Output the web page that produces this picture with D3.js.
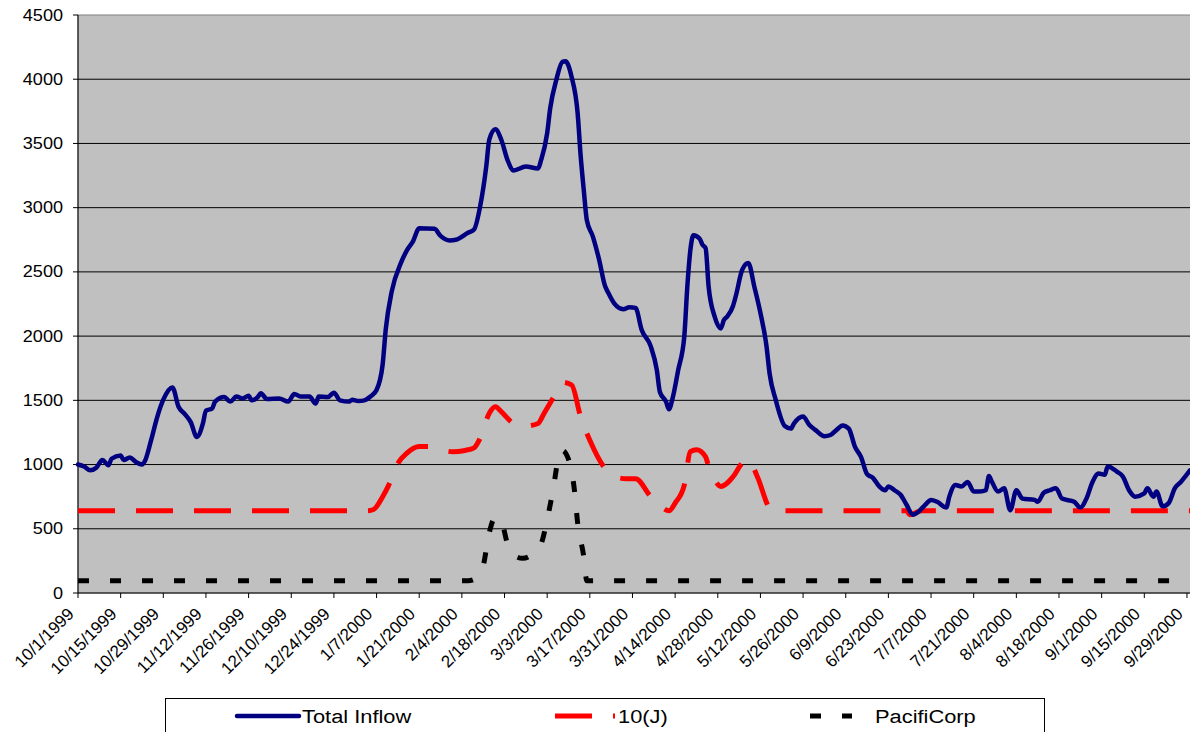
<!DOCTYPE html>
<html>
<head>
<meta charset="utf-8">
<script src="https://cdn.jsdelivr.net/npm/d3@7"></script>
<style>
  body { margin: 0; background: #fff; }
  svg { display: block; }
  text { font-family: Arial, "Liberation Sans", sans-serif; fill: #000; }
</style>
</head>
<body>
<svg id="chart" width="1190" height="732"></svg>
<script>
const tickLabels = ["10/1/1999", "10/15/1999", "10/29/1999", "11/12/1999", "11/26/1999", "12/10/1999",
  "12/24/1999", "1/7/2000", "1/21/2000", "2/4/2000", "2/18/2000", "3/3/2000", "3/17/2000", "3/31/2000",
  "4/14/2000", "4/28/2000", "5/12/2000", "5/26/2000", "6/9/2000", "6/23/2000", "7/7/2000", "7/21/2000",
  "8/4/2000", "8/18/2000", "9/1/2000", "9/15/2000", "9/29/2000"];
const yTicks = [0, 500, 1000, 1500, 2000, 2500, 3000, 3500, 4000, 4500];
const seriesNames = ["Total Inflow", "10(J)", "PacifiCorp"];

const inflowDates = ["10/1/1999", "10/3/1999", "10/5/1999", "10/7/1999", "10/9/1999", "10/11/1999", "10/12/1999",
  "10/15/1999", "10/16/1999", "10/18/1999", "10/20/1999", "10/22/1999", "10/23/1999", "10/25/1999", "10/27/1999",
  "10/29/1999", "11/1/1999", "11/3/1999", "11/5/1999", "11/7/1999", "11/9/1999", "11/11/1999", "11/12/1999",
  "11/14/1999", "11/15/1999", "11/18/1999", "11/20/1999", "11/22/1999", "11/24/1999", "11/26/1999", "11/27/1999",
  "11/29/1999", "11/30/1999", "12/2/1999", "12/6/1999", "12/9/1999", "12/11/1999", "12/13/1999", "12/16/1999",
  "12/18/1999", "12/19/1999", "12/22/1999", "12/24/1999", "12/26/1999", "12/29/1999", "12/30/1999", "1/1/2000",
  "1/3/2000", "1/5/2000", "1/7/2000", "1/9/2000", "1/10/2000", "1/12/2000", "1/15/2000", "1/17/2000", "1/19/2000",
  "1/21/2000", "1/26/2000", "1/28/2000", "1/31/2000", "2/2/2000", "2/6/2000", "2/8/2000", "2/10/2000", "2/12/2000",
  "2/13/2000", "2/15/2000", "2/17/2000", "2/19/2000", "2/21/2000", "2/25/2000", "2/29/2000", "3/1/2000", "3/3/2000",
  "3/4/2000", "3/6/2000", "3/8/2000", "3/9/2000", "3/11/2000", "3/13/2000", "3/14/2000", "3/15/2000", "3/16/2000",
  "3/18/2000", "3/20/2000", "3/22/2000", "3/23/2000", "3/25/2000", "3/28/2000", "3/30/2000", "4/1/2000", "4/3/2000",
  "4/6/2000", "4/8/2000", "4/9/2000", "4/11/2000", "4/12/2000", "4/13/2000", "4/15/2000", "4/17/2000", "4/18/2000",
  "4/19/2000", "4/20/2000", "4/22/2000", "4/23/2000", "4/24/2000", "4/25/2000", "4/27/2000", "4/29/2000", "4/30/2000",
  "5/1/2000", "5/3/2000", "5/4/2000", "5/6/2000", "5/8/2000", "5/10/2000", "5/12/2000", "5/14/2000", "5/15/2000",
  "5/17/2000", "5/20/2000", "5/22/2000", "5/23/2000", "5/26/2000", "5/28/2000", "5/30/2000", "6/2/2000", "6/4/2000",
  "6/6/2000", "6/8/2000", "6/10/2000", "6/12/2000", "6/14/2000", "6/16/2000", "6/18/2000", "6/20/2000", "6/22/2000",
  "6/23/2000", "6/25/2000", "6/27/2000", "6/29/2000", "7/1/2000", "7/3/2000", "7/5/2000", "7/7/2000", "7/9/2000",
  "7/12/2000", "7/13/2000", "7/15/2000", "7/17/2000", "7/19/2000", "7/21/2000", "7/23/2000", "7/25/2000", "7/26/2000",
  "7/27/2000", "7/29/2000", "7/31/2000", "8/2/2000", "8/4/2000", "8/6/2000", "8/10/2000", "8/11/2000", "8/13/2000",
  "8/15/2000", "8/17/2000", "8/19/2000", "8/23/2000", "8/25/2000", "8/27/2000", "8/29/2000", "8/31/2000", "9/2/2000",
  "9/3/2000", "9/6/2000", "9/8/2000", "9/10/2000", "9/12/2000", "9/15/2000", "9/16/2000", "9/18/2000", "9/19/2000",
  "9/21/2000", "9/23/2000", "9/25/2000", "9/27/2000", "9/30/2000"];
const inflowValues = [1000, 985, 955, 975, 1035, 995, 1045,
  1070, 1035, 1055, 1020, 1000, 1030, 1190, 1370,
  1505, 1600, 1450, 1395, 1330, 1215, 1320, 1420,
  1435, 1490, 1525, 1490, 1530, 1515, 1535, 1500,
  1525, 1555, 1510, 1515, 1490, 1550, 1530, 1530,
  1475, 1530, 1525, 1560, 1500, 1490, 1505, 1495,
  1500, 1530, 1580, 1780, 2050, 2350, 2570, 2670, 2740,
  2840, 2835, 2780, 2745, 2750, 2805, 2830, 3010, 3320,
  3530, 3610, 3525, 3370, 3290, 3320, 3305, 3370, 3580,
  3775, 3995, 4135, 4140, 4020, 3735, 3400, 3140, 2905,
  2775, 2600, 2390, 2340, 2255, 2210, 2225, 2220, 2050,
  1920, 1735, 1565, 1490, 1430, 1500, 1735, 1995, 2385,
  2670, 2785, 2760, 2710, 2685, 2385, 2150, 2060, 2125,
  2150, 2235, 2320, 2515, 2570, 2385, 2180, 1920, 1710,
  1505, 1300, 1280, 1320, 1375, 1310, 1270, 1220, 1230,
  1270, 1305, 1280, 1140, 1060, 925, 895, 830, 800,
  830, 800, 765, 685, 610, 635, 685, 725, 710,
  665, 750, 840, 830, 865, 790, 790, 800, 910,
  865, 790, 815, 645, 800, 735, 725, 710, 780,
  800, 815, 735, 710, 665, 735, 865, 930, 920,
  985, 945, 905, 800, 750, 775, 815, 750, 790,
  675, 700, 815, 865, 955];

const tenJDates = ["10/1/1999", "1/4/2000", "1/6/2000", "1/9/2000", "1/11/2000", "1/14/2000", "1/17/2000", "1/21/2000",
  "1/24/2000", "1/28/2000", "2/1/2000", "2/5/2000", "2/8/2000", "2/10/2000", "2/13/2000", "2/15/2000", "2/17/2000",
  "2/21/2000", "2/25/2000", "2/29/2000", "3/2/2000", "3/6/2000", "3/8/2000", "3/11/2000", "3/14/2000", "3/17/2000",
  "3/22/2000", "3/26/2000", "3/29/2000", "4/1/2000", "4/6/2000", "4/9/2000", "4/12/2000", "4/14/2000", "4/17/2000",
  "4/19/2000", "4/21/2000", "4/24/2000", "4/25/2000", "4/27/2000", "4/29/2000", "5/3/2000", "5/6/2000", "5/8/2000",
  "5/11/2000", "5/15/2000", "5/16/2000", "6/29/2000", "6/30/2000", "7/3/2000", "7/4/2000", "9/30/2000"];
const tenJValues = [640, 640, 650, 750, 840, 1010, 1090, 1140,
  1140, 1115, 1100, 1110, 1130, 1205, 1400, 1450, 1410,
  1320, 1300, 1320, 1400, 1560, 1640, 1620, 1370, 1190,
  970, 900, 890, 890, 750, 680, 640, 700, 840,
  1100, 1115, 1060, 985, 880, 830, 905, 1010, 1040,
  905, 660, 640, 640, 610, 635, 640, 640];

const pacDates = ["10/1/1999", "2/6/2000", "2/9/2000", "2/11/2000", "2/13/2000", "2/15/2000", "2/17/2000", "2/19/2000",
  "2/21/2000", "2/24/2000", "2/28/2000", "3/1/2000", "3/3/2000", "3/5/2000", "3/7/2000", "3/8/2000", "3/10/2000",
  "3/12/2000", "3/13/2000", "3/15/2000", "3/16/2000", "9/30/2000"];
const pacValues = [95, 95, 120, 210, 470, 590, 555, 380,
  295, 270, 320, 380, 570, 815, 1080, 1110, 1040,
  790, 545, 285, 95, 95];

const parse = d3.timeParse("%m/%d/%Y");
const svg = d3.select("#chart");

const M = { left: 78, right: 1190, top: 15, bottom: 593 };
const STRETCH = 1.13; // the reference text is a bit wider than plain Arial

const x = d3.scaleTime()
  .domain([parse("10/1/1999"), parse("9/30/2000")])
  .range([M.left, M.right]);
const y = d3.scaleLinear().domain([0, 4500]).range([M.bottom, M.top]);

// plot area
svg.append("rect")
  .attr("x", M.left).attr("y", M.top)
  .attr("width", M.right - M.left + 2).attr("height", M.bottom - M.top)
  .attr("fill", "#c0c0c0")
  .attr("stroke", "#808080").attr("stroke-width", 1);

// gridlines
svg.selectAll(".grid")
  .data(yTicks.filter(d => d > 0 && d < 4500))
  .enter().append("line")
  .attr("x1", M.left).attr("x2", M.right)
  .attr("y1", d => y(d)).attr("y2", d => y(d))
  .attr("stroke", "#000").attr("stroke-width", 1);

// y axis
svg.append("line")
  .attr("x1", M.left).attr("x2", M.left).attr("y1", M.top).attr("y2", M.bottom)
  .attr("stroke", "#000");
svg.selectAll(".ytick")
  .data(yTicks).enter().append("line")
  .attr("x1", M.left - 5).attr("x2", M.left)
  .attr("y1", d => y(d)).attr("y2", d => y(d))
  .attr("stroke", "#000");
svg.selectAll(".ylabel")
  .data(yTicks).enter().append("text")
  .attr("transform", d => `translate(63,${y(d)}) scale(${STRETCH},1)`)
  .attr("dy", "0.35em")
  .attr("text-anchor", "end")
  .attr("font-size", 16)
  .text(d => d);

// x axis
svg.append("line")
  .attr("x1", M.left).attr("x2", M.right).attr("y1", M.bottom).attr("y2", M.bottom)
  .attr("stroke", "#000");
const tickDates = tickLabels.map(parse);
svg.selectAll(".xtick")
  .data(tickDates).enter().append("line")
  .attr("x1", d => x(d)).attr("x2", d => x(d))
  .attr("y1", M.bottom).attr("y2", M.bottom + 5)
  .attr("stroke", "#000");
svg.selectAll(".xlabel")
  .data(tickLabels).enter().append("text")
  .attr("transform", d => `translate(${x(parse(d)) - 3},${M.bottom + 22}) rotate(-45)`)
  .attr("text-anchor", "end")
  .attr("font-size", 17)
  .text(d => d);

// series
const line = d3.line()
  .x(d => x(d[0]))
  .y(d => y(d[1]))
  .curve(d3.curveMonotoneX);

const series = [
  { dates: inflowDates, values: inflowValues, color: "#000080", width: 4.5, dash: null },
  { dates: tenJDates, values: tenJValues, color: "#ff0000", width: 5, dash: "37,21" },
  { dates: pacDates, values: pacValues, color: "#000000", width: 5, dash: "11,21" }
];

// draw back to front: PacifiCorp, 10(J), Total Inflow
series.slice().reverse().forEach(s => {
  svg.append("path")
    .datum(s.dates.map((d, i) => [parse(d), s.values[i]]))
    .attr("d", line)
    .attr("fill", "none")
    .attr("stroke", s.color)
    .attr("stroke-width", s.width)
    .attr("stroke-linejoin", "round")
    .attr("stroke-linecap", s.dash ? "butt" : "round")
    .attr("stroke-dasharray", s.dash);
});

// legend
const legend = svg.append("g");
legend.append("rect")
  .attr("x", 165.5).attr("y", 698.5)
  .attr("width", 879).attr("height", 60)
  .attr("fill", "#fff").attr("stroke", "#000");

const legendItems = [
  { x1: 237, x2: 299, tx: 302 },
  { x1: 555, x2: 615, tx: 618 },
  { x1: 810, x2: 852, tx: 875 }
];
legendItems.forEach((p, i) => {
  const s = series[i];
  legend.append("line")
    .attr("x1", p.x1).attr("x2", p.x2)
    .attr("y1", 716).attr("y2", 716)
    .attr("stroke", s.color)
    .attr("stroke-width", s.width)
    .attr("stroke-linecap", s.dash ? "butt" : "round")
    .attr("stroke-dasharray", s.dash);
  legend.append("text")
    .attr("transform", `translate(${p.tx},716) scale(1.15,1)`)
    .attr("dy", "0.35em")
    .attr("font-size", 19)
    .text(seriesNames[i]);
});
</script>
</body>
</html>
